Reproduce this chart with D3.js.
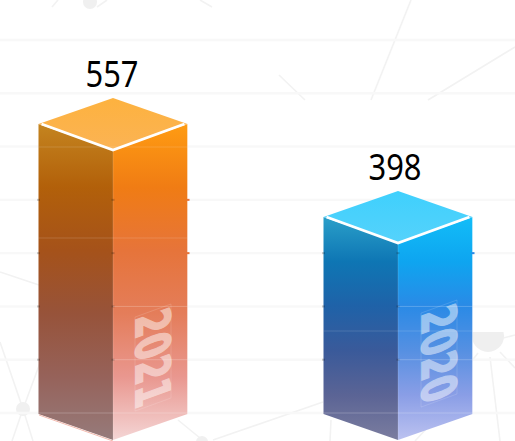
<!DOCTYPE html>
<html>
<head>
<meta charset="utf-8">
<script src="https://cdn.jsdelivr.net/npm/d3@7"></script>
<style>
  html, body { margin: 0; padding: 0; background: #fff; overflow: hidden; }
  svg { display: block; }
</style>
</head>
<body>
<div id="chart"></div>
<script>
// chart data
var years = ["2021", "2020"];
var values = [557, 398];
var gridTicks = [0, 1, 2, 3, 4, 5, 6, 7];

// face colours, top to bottom of each bar
var leftColors = [
  ["#c4841f", "#b2600a", "#a5521a", "#97533a", "#96625a", "#967b7b"],
  ["#2a9fc9", "#0e76b4", "#1f62a8", "#3a5a9a", "#5b6495", "#7b7d9f"]
];
var rightColors = [
  ["#ff9c12", "#f07c14", "#e6743a", "#e47d5a", "#e9978f", "#f4d5d5"],
  ["#12bdf8", "#0ea5f0", "#2a8ae6", "#5690e2", "#8a9ee6", "#bcc2f0"]
];
var topColors = [
  ["#fdb23f", "#fbb354"],
  ["#3fd0fd", "#55d2fb"]
];

// pale seams across the faces
var seamRows = [[147, 238], [331]];

// faint network picture behind the chart
var netLines = [
  [52, 7, 58, 0], [97, 7, 107, 0], [200, 0, 212, 7],
  [279, 75, 305, 100], [411, 0, 371, 100], [515, 47, 428, 100],
  [0, 272, 39, 285], [0, 342, 23, 409], [40, 363, 23, 409],
  [23, 409, 12, 441], [23, 409, 33, 441],
  [178, 420, 200, 438], [213, 440, 323, 402],
  [331, 420, 330, 441], [428, 427, 415, 441],
  [488, 342, 515, 335], [490, 357, 500, 441],
  [500, 352, 515, 368], [478, 353, 471, 362]
];
var netDots = [[90, 2, 7], [23, 409, 7], [202, 442, 6]];

var svgWidth = 515;
var svgHeight = 441;

var baseY = 440;
var halfWidth = 74.5;
var depth = 26;

var svg = d3.select("#chart")
  .append("svg")
  .attr("width", svgWidth)
  .attr("height", svgHeight);

var defs = svg.append("defs");

// scales
var xScale = d3.scalePoint().domain(years).range([113, 398]);
var yScale = d3.scaleLinear().domain([398, 557]).range([243, 150]);
var gridScale = d3.scalePoint().domain(gridTicks).range([40, 413]);

// background
var bg = svg.append("g");

bg.selectAll(".net")
  .data(netLines)
  .enter()
  .append("line")
  .attr("x1", d => d[0])
  .attr("y1", d => d[1])
  .attr("x2", d => d[2])
  .attr("y2", d => d[3])
  .attr("stroke", "#f2f2f2")
  .attr("stroke-width", 1.6);

bg.selectAll(".dot")
  .data(netDots)
  .enter()
  .append("circle")
  .attr("cx", d => d[0])
  .attr("cy", d => d[1])
  .attr("r", d => d[2])
  .attr("fill", "#f0f0f0");

// circle at the lower right, cut off at its top
bg.append("path")
  .attr("d", "M472.5 332 A16 16 0 1 0 503.5 332 Z")
  .attr("fill", "#efefef");

// grid lines
svg.selectAll(".grid")
  .data(gridTicks)
  .enter()
  .append("line")
  .attr("class", "grid")
  .attr("x1", 0)
  .attr("x2", svgWidth)
  .attr("y1", d => gridScale(d))
  .attr("y2", d => gridScale(d))
  .attr("stroke", "#f8f8f8")
  .attr("stroke-width", 2.4);

function addGradient(id, colors, y1, y2) {
  var grad = defs.append("linearGradient")
    .attr("id", id)
    .attr("gradientUnits", "userSpaceOnUse")
    .attr("x1", 0).attr("x2", 0)
    .attr("y1", y1).attr("y2", y2);
  colors.forEach(function(c, i) {
    grad.append("stop")
      .attr("offset", i / (colors.length - 1))
      .attr("stop-color", c);
  });
}

// one group for each bar
years.forEach(function(year, i) {
  var cx = xScale(year);
  var frontY = yScale(values[i]);
  var sideY = frontY - depth;
  var left = cx - halfWidth;
  var right = cx + halfWidth;
  var bar = svg.append("g");

  addGradient("left" + i, leftColors[i], sideY, baseY);
  addGradient("right" + i, rightColors[i], sideY, baseY);
  addGradient("top" + i, topColors[i], sideY - depth, frontY);

  // left face
  bar.append("path")
    .attr("d", `M${left} ${sideY} L${cx} ${frontY} L${cx} ${baseY} L${left} ${baseY - depth} Z`)
    .attr("fill", `url(#left${i})`);

  // right face
  bar.append("path")
    .attr("d", `M${cx} ${frontY} L${right} ${sideY} L${right} ${baseY - depth} L${cx} ${baseY} Z`)
    .attr("fill", `url(#right${i})`);

  // top face
  bar.append("path")
    .attr("d", `M${cx} ${frontY - 2 * depth} L${right} ${sideY} L${cx} ${frontY} L${left} ${sideY} Z`)
    .attr("fill", `url(#top${i})`);

  // white V along the front of the top face
  bar.append("path")
    .attr("d", `M${left + 3} ${sideY} L${cx} ${frontY} L${right - 3} ${sideY}`)
    .attr("fill", "none")
    .attr("stroke", "#fff")
    .attr("stroke-width", 2.8);

  // light edge at the right side and the front corner
  bar.append("line")
    .attr("x1", right).attr("x2", right)
    .attr("y1", sideY).attr("y2", baseY - depth)
    .attr("stroke", "#fff")
    .attr("stroke-opacity", 0.35);
  bar.append("line")
    .attr("x1", cx).attr("x2", cx)
    .attr("y1", frontY).attr("y2", baseY)
    .attr("stroke", "#fff")
    .attr("stroke-opacity", 0.15);

  // grid lines showing through the faces
  gridTicks.filter(d => gridScale(d) > frontY).forEach(function(d) {
    var y = gridScale(d);
    // dark ticks at the edges of the bar
    if (y < 400) {
      [left, cx].forEach(function(px) {
        bar.append("rect")
          .attr("x", px - 1.5)
          .attr("y", y - 1)
          .attr("width", 3)
          .attr("height", 2)
          .attr("fill", "#000")
          .attr("opacity", 0.2);
      });
    }
    if (y < 300) {
      bar.append("rect")
        .attr("x", right - 1)
        .attr("y", y - 1)
        .attr("width", 3)
        .attr("height", 2)
        .attr("fill", rightColors[i][2]);
    }
    if (y > 300) {
      bar.append("line")
        .attr("x1", y > 400 ? left : cx)
        .attr("x2", right)
        .attr("y1", y).attr("y2", y)
        .attr("stroke", "#fff")
        .attr("stroke-opacity", 0.22);
    }
  });

  seamRows[i].forEach(function(y) {
    bar.append("line")
      .attr("x1", left)
      .attr("x2", right)
      .attr("y1", y).attr("y2", y)
      .attr("stroke", "#fff")
      .attr("stroke-opacity", 0.14);
  });

  // year written across the right face
  var textX = cx + (i === 0 ? 22 : 23);
  var textY = i === 0 ? 317 : 313;
  var yearLabel = bar.append("g")
    .attr("transform", `translate(${textX + 36}, ${textY - 13}) skewY(-20)`);

  yearLabel.append("rect")
    .attr("x", -36)
    .attr("y", 0)
    .attr("width", 36)
    .attr("height", 94)
    .attr("fill", "none")
    .attr("stroke", "#fff")
    .attr("stroke-opacity", 0.16)
    .attr("stroke-width", 0.8);

  yearLabel.append("text")
    .attr("transform", "rotate(90)")
    .attr("x", 0.5)
    .attr("y", 35)
    .attr("textLength", 93)
    .attr("lengthAdjust", "spacingAndGlyphs")
    .attr("font-family", "'DejaVu Sans', sans-serif")
    .attr("font-weight", "bold")
    .attr("font-size", 47)
    .attr("fill", "#fff")
    .attr("stroke", "#fff")
    .attr("stroke-width", 1.6)
    .attr("opacity", 0.48)
    .text(year);

  // value label
  svg.append("text")
    .attr("x", cx - (i === 0 ? 1 : 3))
    .attr("y", frontY - 2 * depth - 11)
    .attr("text-anchor", "middle")
    .attr("textLength", 53)
    .attr("lengthAdjust", "spacingAndGlyphs")
    .attr("font-family", "'Noto Sans', sans-serif")
    .attr("font-size", 36)
    .attr("fill", "#000")
    .text(values[i]);
});

// pink line under the first bar's left face
svg.append("line")
  .attr("x1", 39).attr("y1", 415)
  .attr("x2", 113).attr("y2", 441)
  .attr("stroke", "#f3b9ae")
  .attr("stroke-width", 1);
</script>
</body>
</html>
